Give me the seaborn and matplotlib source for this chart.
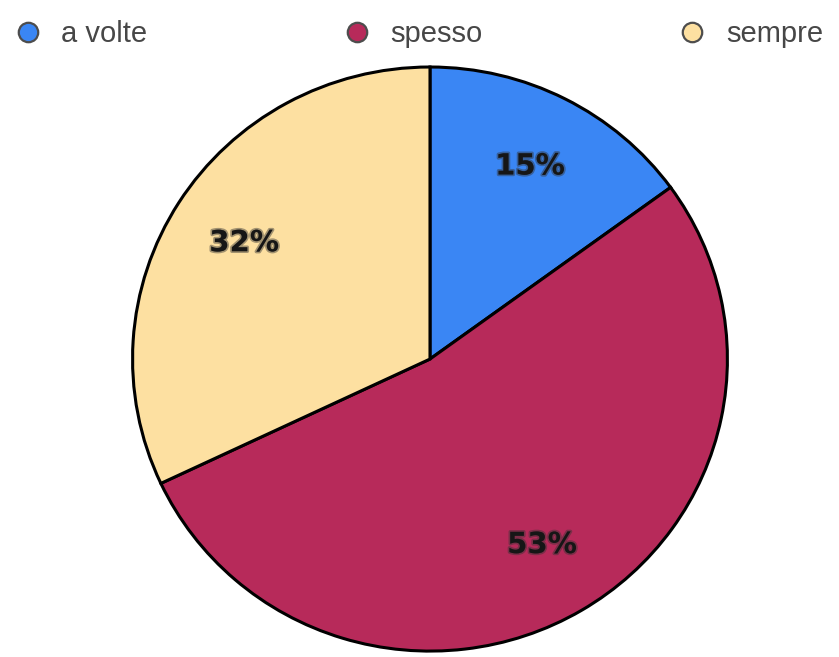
import matplotlib
matplotlib.use('Agg')
import matplotlib.pyplot as plt
import matplotlib.patheffects as pe
from matplotlib.lines import Line2D
import seaborn as sns

# Data
labels = ['a volte', 'spesso', 'sempre']
values = [15, 53, 32]
colors = ['#3a86f4', '#b72a5a', '#fde0a1']

sns.set_theme(style='white')
plt.rcParams['font.family'] = ['Liberation Sans', 'DejaVu Sans']

fig = plt.figure(figsize=(8.39, 6.57), dpi=100)
ax = fig.add_axes([0.158, 0.009, 0.709, 0.889])

palette = sns.color_palette(colors)
wedges, texts, autotexts = ax.pie(
    values, colors=palette, startangle=90, counterclock=False,
    autopct='%1.0f%%', pctdistance=0.74,
    wedgeprops=dict(edgecolor='black', linewidth=2.2),
)
for w in wedges:
    w.set_clip_on(False)
for t in autotexts:
    t.set_fontsize(21)
    t.set_fontweight('bold')
    t.set_family('DejaVu Sans')
    t.set_color('#161616')
    t.set_path_effects([pe.withStroke(linewidth=2.5, foreground='#333333', alpha=0.45)])
ax.set_aspect('auto')
ax.set_xlim(-1, 1)
ax.set_ylim(-1, 1)

handles = [Line2D([], [], marker='o', linestyle='none', markersize=14,
                  markerfacecolor=c, markeredgecolor='#4d4d4d', markeredgewidth=1.6)
           for c in colors]
fig.legend(handles, labels, loc='center', bbox_to_anchor=(0.019, 0.918, 0.962, 0.06),
           mode='expand', ncol=3, frameon=False, fontsize=21, handletextpad=0.75,
           handlelength=0.8, borderpad=0, borderaxespad=0, labelcolor='#474747')

fig.savefig('out.png', dpi=100)
